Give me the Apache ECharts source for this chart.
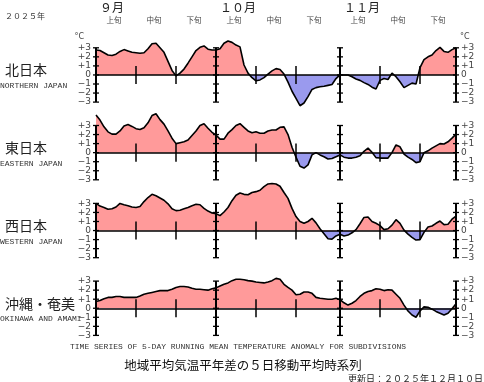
<!DOCTYPE html>
<html><head><meta charset="utf-8">
<script src="https://cdn.jsdelivr.net/npm/echarts@6/dist/echarts.min.js"></script>
<style>html,body{margin:0;padding:0;background:#fff}#c{width:484px;height:382px}</style>
</head><body><div id="c"></div>
<script>
// ---- data (5-day running mean temperature anomaly, °C), 2025-09-01 .. 2025-11-30 ----
const regionNames = ['北日本', '東日本', '西日本', '沖縄・奄美'];
const regionNamesEn = ['NORTHERN JAPAN', 'EASTERN JAPAN', 'WESTERN JAPAN', 'OKINAWA AND AMAMI'];

const northern = [2.75,2.7,2.45,2.2,2.15,2.3,2.6,2.8,2.65,2.5,
  2.45,2.4,2.45,2.9,3.45,3.5,3.0,2.5,1.5,0.5,
  -0.1,0.2,0.65,1.3,2.0,2.7,3.05,3.2,2.85,2.75,
  2.75,2.9,3.5,3.75,3.6,3.3,3.1,1.1,0.2,-0.3,
  -0.65,-0.55,-0.3,0.1,0.45,0.7,0.6,0.1,-0.8,-1.8,
  -2.6,-3.4,-3.1,-2.4,-1.6,-1.4,-1.3,-1.25,-1.15,-1.05,
  -0.4,0.0,0.0,0.0,-0.2,-0.45,-0.6,-0.85,-1.05,-1.35,
  -1.55,-0.6,-0.4,-0.5,0.2,-0.2,-0.75,-1.4,-1.15,-0.9,
  -1.0,0.8,1.7,2.0,2.2,2.7,3.05,2.6,2.5,2.8,
  3.0];
const eastern = [4.15,3.6,2.85,2.3,2.05,2.05,2.4,2.95,3.1,2.9,
  2.65,2.55,2.75,3.3,4.1,4.3,3.65,3.15,2.4,1.6,
  1.0,1.1,1.2,1.4,1.9,2.4,3.0,3.2,2.7,2.25,
  1.95,1.5,1.5,2.15,2.55,3.0,3.2,2.8,2.4,2.2,
  2.3,2.15,2.15,2.4,2.5,2.5,2.8,2.85,2.0,0.6,
  -0.5,-1.5,-1.7,-1.35,-0.25,0.0,-0.25,-0.45,-0.7,-0.65,
  -0.45,-0.25,-0.5,-0.6,-0.6,-0.5,-0.35,0.15,0.5,0.05,
  -0.55,-0.6,-0.6,-0.6,0.0,0.85,0.65,-0.15,-0.5,-0.75,
  -1.1,-1.0,0.0,0.2,0.5,0.75,1.0,0.95,1.2,1.6,
  2.05];
const western = [3.0,2.7,2.55,2.35,2.4,2.6,3.0,2.85,2.75,2.6,
  2.55,2.65,3.2,3.65,4.0,3.85,3.6,3.35,2.95,2.4,
  2.2,2.25,2.4,2.55,2.75,2.9,2.85,2.45,2.15,1.95,
  1.85,1.65,2.05,2.55,3.3,3.9,4.15,4.0,3.95,4.2,
  4.3,4.45,4.85,5.15,5.2,5.15,4.9,4.2,3.55,2.45,
  1.55,1.0,0.8,1.0,1.35,0.85,0.2,-0.35,-0.9,-0.95,
  -0.6,-0.4,-0.6,-0.5,-0.25,0.1,0.75,1.45,1.5,1.0,
  0.8,0.55,0.1,0.2,0.6,1.2,0.8,0.05,-0.4,-0.75,
  -1.05,-1.0,-0.2,0.4,0.5,0.8,1.05,0.65,0.7,1.25,
  1.6];
const okinawa = [0.75,0.85,1.05,1.2,1.2,1.3,1.3,1.2,1.2,1.2,
  1.2,1.35,1.55,1.65,1.75,1.85,1.95,1.95,1.95,2.1,
  2.3,2.4,2.4,2.35,2.2,2.1,2.1,2.05,2.0,2.15,
  2.25,2.45,2.65,2.8,3.05,3.2,3.2,3.15,3.05,3.0,
  2.9,2.85,2.8,2.9,3.05,3.3,3.2,2.65,2.3,2.0,
  1.5,1.55,1.8,1.8,1.65,1.2,1.1,1.05,1.0,1.0,
  1.1,0.95,0.6,0.35,0.55,0.85,1.3,1.65,1.85,1.95,
  2.15,2.1,1.95,2.05,2.0,1.55,1.1,0.35,-0.3,-0.75,
  -1.0,-0.3,0.15,0.1,-0.1,-0.35,-0.55,-0.75,-0.55,-0.05,
  0.5];

const monthLabels = ['９月', '１０月', '１１月'];
const monthStarts = [0, 30, 61, 90];          // day index of Sep 1, Oct 1, Nov 1, Nov 30
const dekadLabels = ['上旬', '中旬', '下旬'];
const dekadStarts = [10, 20, 40, 50, 71, 81]; // day index of 11th and 21st of each month
const yTicks = [-3, -2, -1, 0, 1, 2, 3];
const yearLabel = '２０２５年';
const titleEn = 'TIME SERIES OF 5-DAY RUNNING MEAN TEMPERATURE ANOMALY FOR SUBDIVISIONS';
const titleJa = '地域平均気温平年差の５日移動平均時系列';
const updated = '更新日：２０２５年１２月１０日';

// ---- chart ----
const seriesValues = [northern, eastern, western, okinawa];
const RED = '#ff9a9a', BLUE = '#9a9aee';
const gridTops = [47.8, 125.5, 203.4, 281.1];
const gridH = 54.3;
const monoFont = '"Liberation Mono", "DejaVu Sans Mono", monospace';
const cjkFont = '"Noto Sans CJK JP", sans-serif';

function fmtY(v) { return v > 0 ? '+' + v : (v < 0 ? '\u2212' + (-v) : '0'); }

function tickRenderer(params, api) {
  const x = api.value(0), major = api.value(1);
  const lo = major ? -3 : -1, hi = major ? 3 : 1;
  const p0 = api.coord([x, lo]), p1 = api.coord([x, hi]);
  const children = [{type: 'line', shape: {x1: p0[0], y1: p0[1], x2: p1[0], y2: p1[1]},
    style: {stroke: '#000', lineWidth: major ? 2 : 1.5}}];
  if (major) {
    yTicks.forEach(k => {
      const p = api.coord([x, k]);
      children.push({type: 'line', shape: {x1: p[0] - 3, y1: p[1], x2: p[0] + 3, y2: p[1]},
        style: {stroke: '#000', lineWidth: 1.3}});
    });
  }
  return {type: 'group', children};
}

const grids = [], xAxes = [], yAxes = [], series = [], areaIdx = [];
const tickData = monthStarts.map(d => [d, 1]).concat(dekadStarts.map(d => [d, 0]));
seriesValues.forEach((vals, g) => {
  grids.push({left: 96, right: 28, top: gridTops[g], height: gridH});
  xAxes.push({type: 'value', gridIndex: g, min: 0, max: 90, z: 3,
    axisLine: {show: true, onZero: true, lineStyle: {color: '#000', width: 1.5}},
    axisTick: {show: false}, axisLabel: {show: false}, splitLine: {show: false}});
  ['left', 'right'].forEach(pos => {
    yAxes.push({type: 'value', gridIndex: g, position: pos, min: -3, max: 3, interval: 1,
      axisLine: {show: false}, axisTick: {show: false}, splitLine: {show: false},
      axisLabel: {formatter: fmtY, fontSize: 9, color: '#444', margin: 5,
        fontFamily: '"DejaVu Sans", sans-serif'}});
  });
  const pts = vals.map((v, i) => [i, v]);
  areaIdx.push(series.length);
  series.push({type: 'line', xAxisIndex: g, yAxisIndex: g * 2, data: pts, symbol: 'none',
    clip: false, lineStyle: {width: 0, opacity: 0}, areaStyle: {opacity: 1, color: RED}, silent: true, z: 1});
  series.push({type: 'line', xAxisIndex: g, yAxisIndex: g * 2, data: pts, symbol: 'none',
    clip: false, lineStyle: {color: '#000', width: 1.6}, silent: true, z: 4});
  series.push({type: 'custom', xAxisIndex: g, yAxisIndex: g * 2, data: tickData,
    renderItem: tickRenderer, clip: false, silent: true, z: 5});
});

const chart = echarts.init(document.getElementById('c'), null, {renderer: 'canvas'});
chart.setOption({
  animation: false,
  backgroundColor: '#fff',
  grid: grids, xAxis: xAxes, yAxis: yAxes, series: series
});

// area colouring: red above zero, blue below (global gradient split at each panel's zero line)
const areaUpdates = series.map(() => ({}));
areaIdx.forEach((si, g) => {
  const zy = chart.convertToPixel({xAxisIndex: g, yAxisIndex: g * 2}, [0, 0])[1];
  areaUpdates[si] = {areaStyle: {color: new echarts.graphic.LinearGradient(0, zy - 10, 0, zy + 10, [
    {offset: 0, color: RED}, {offset: 0.5, color: RED}, {offset: 0.5, color: BLUE}, {offset: 1, color: BLUE}
  ], true)}};
});

// ---- texts ----
const px = d => chart.convertToPixel({xAxisIndex: 0, yAxisIndex: 0}, [d, 0])[0];
const graphics = [];
function txt(x, y, text, font, size, align, color) {
  graphics.push({type: 'text', x: x, y: y, silent: true,
    style: {text: text, font: size + 'px ' + font, fill: color || '#222',
      textAlign: align || 'left', textVerticalAlign: 'middle'}});
}
txt(5, 16, yearLabel, cjkFont, 8, 'left', '#333');
monthLabels.forEach((m, k) => txt(px(monthStarts[k]) + 4, 7, m, cjkFont, 12, 'left', '#222'));
[0, 30, 61].forEach(ms => {
  dekadLabels.forEach((d, k) => txt(px(ms + 4.5 + 10 * k), 20, d, cjkFont, 7.5, 'center', '#444'));
});
txt(84, 37, '°C', '"DejaVu Sans", sans-serif', 8, 'right', '#444');
txt(460, 37, '°C', '"DejaVu Sans", sans-serif', 8, 'left', '#444');
regionNames.forEach((n, g) => {
  const zeroY = gridTops[g] + gridH / 2;
  txt(5, zeroY - 5, n, cjkFont, 14, 'left', '#222');
  txt(0, zeroY + 11, regionNamesEn[g], monoFont, 8, 'left', '#333');
});
txt(238, 347, titleEn, monoFont, 8, 'center', '#333');
txt(243, 365, titleJa, cjkFont, 12.5, 'center', '#111');
txt(483, 379, updated, cjkFont, 9, 'right', '#222');
chart.setOption({series: areaUpdates, graphic: graphics});
</script>
</body></html>
